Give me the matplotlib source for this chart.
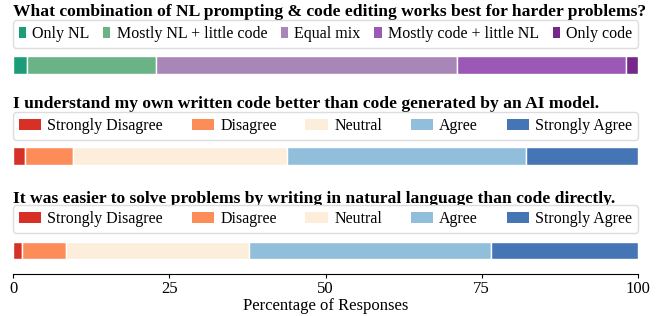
import matplotlib.pyplot as plt
from matplotlib.patches import Patch

plt.rcParams['font.family'] = ['Liberation Serif', 'DejaVu Serif']

# question 1
q1_title = "What combination of NL prompting & code editing works best for harder problems?"
q1_labels = ["Only NL", "Mostly NL + little code", "Equal mix", "Mostly code + little NL", "Only code"]
q1_values = [2.2, 20.7, 48.2, 26.9, 2.0]
q1_colors = ["#1b9e77", "#69b387", "#a886b8", "#9b59b6", "#76288a"]

# likert questions
likert_labels = ["Strongly Disagree", "Disagree", "Neutral", "Agree", "Strongly Agree"]
likert_colors = ["#d73027", "#fc8d59", "#fdeedb", "#91bfdb", "#4575b4"]

q2_title = "I understand my own written code better than code generated by an AI model."
q2_values = [1.9, 7.7, 34.2, 38.3, 17.9]

q3_title = "It was easier to solve problems by writing in natural language than code directly."
q3_values = [1.4, 7.0, 29.4, 38.6, 23.6]

W, H = 664, 316
fig = plt.figure(figsize=(W / 100, H / 100), dpi=100)
L, R = 13, 638


def px_axes(top, bottom):
    return fig.add_axes([L / W, 1 - bottom / H, (R - L) / W, (bottom - top) / H])


def draw(ax, title, title_y, legend_y, labels, values, colors, handlelength):
    left = 0
    for v, c in zip(values, colors):
        ax.barh(0, v, left=left, height=1, color=c, edgecolor="white", linewidth=1)
        left += v
    ax.set_xlim(0, 100)
    for s in ["top", "right", "left"]:
        ax.spines[s].set_visible(False)
    ax.set_yticks([])
    handles = [Patch(facecolor=c, edgecolor="none") for c in colors]
    # legend box placed in figure pixels
    fig.legend(handles, labels, loc="center",
               bbox_to_anchor=(L / W, 1 - legend_y / H, (R - L) / W, 0),
               mode="expand", ncol=5, fontsize=11.5, handlelength=handlelength,
               handleheight=0.75, handletextpad=0.4, columnspacing=0.8,
               borderaxespad=0, borderpad=0.35, fancybox=True, framealpha=1,
               edgecolor="#dddddd")
    fig.text(L / W, 1 - title_y / H, title, fontsize=12.6, fontweight="bold",
             va="center", ha="left")


ax1 = px_axes(56, 74)
draw(ax1, q1_title, 12, 34, q1_labels, q1_values, q1_colors, 0.45)
ax1.set_ylim(-0.5, 0.5)
ax1.spines["bottom"].set_visible(False)
ax1.set_xticks([])

ax2 = px_axes(147, 165)
draw(ax2, q2_title, 104, 126, likert_labels, q2_values, likert_colors, 1.4)
ax2.set_ylim(-0.5, 0.5)
ax2.spines["bottom"].set_visible(False)
ax2.set_xticks([])

ax3 = px_axes(240, 274)
draw(ax3, q3_title, 199, 219, likert_labels, q3_values, likert_colors, 1.4)
ax3.set_ylim(-1.33, 0.61)
ax3.set_xticks([0, 25, 50, 75, 100])
ax3.tick_params(axis="x", labelsize=12, length=3, pad=2)
ax3.set_xlabel("Percentage of Responses", fontsize=12, labelpad=1)

fig.savefig("out.png", dpi=100)
